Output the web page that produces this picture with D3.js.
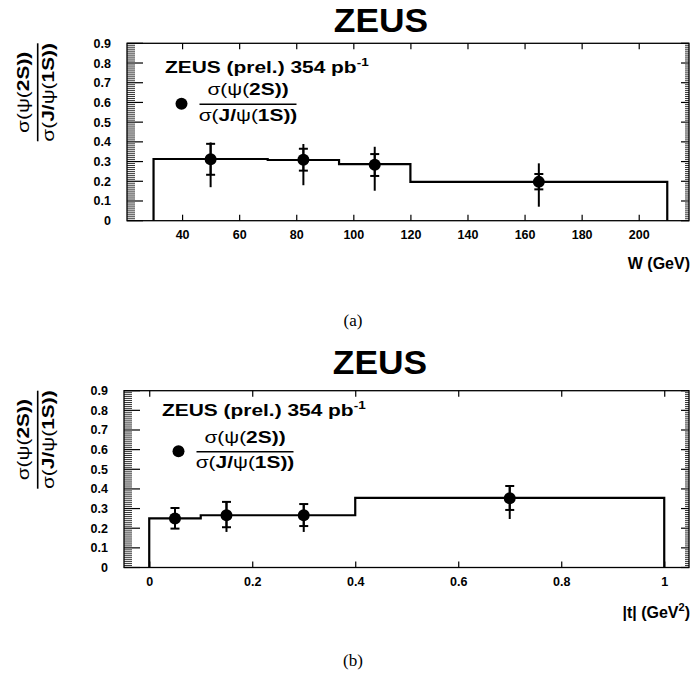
<!DOCTYPE html>
<html><head><meta charset="utf-8">
<script src="https://cdn.jsdelivr.net/npm/d3@7"></script>
<style>body{margin:0;background:#fff}svg{display:block}</style>
</head><body>
<script>
// ---- data: panel (a) W dependence ----
const wEdges = [30, 70, 95, 120, 210];
const wHist  = [0.313, 0.308, 0.287, 0.197];
const wX     = [50, 82.5, 107.5, 165];
const wY     = [0.312, 0.309, 0.284, 0.197];
const wStatHi = [0.390, 0.365, 0.338, 0.237];
const wStatLo = [0.233, 0.254, 0.227, 0.159];
const wTotHi  = [0.397, 0.389, 0.375, 0.291];
const wTotLo  = [0.170, 0.180, 0.152, 0.071];
const wTicks  = [40, 60, 80, 100, 120, 140, 160, 180, 200];

// ---- data: panel (b) |t| dependence ----
const tEdges = [0, 0.1, 0.4, 1.0];
const tHist  = [0.250, 0.266, 0.354];
const tX     = [0.05, 0.15, 0.3, 0.7];
const tY     = [0.250, 0.266, 0.266, 0.352];
const tStatHi = [0.303, 0.334, 0.323, 0.415];
const tStatLo = [0.198, 0.205, 0.211, 0.293];
const tTotHi  = [0.303, 0.334, 0.323, 0.415];
const tTotLo  = [0.198, 0.181, 0.181, 0.247];
const tTicks  = [0, 0.2, 0.4, 0.6, 0.8, 1];

const yTicks = [0, 0.1, 0.2, 0.3, 0.4, 0.5, 0.6, 0.7, 0.8, 0.9];

const W = 694, H = 684;
const svg = d3.select("body").append("svg").attr("width", W).attr("height", H);
const SANS = "'Liberation Sans', Arial, Helvetica, sans-serif";
const STRETCH = 1.23;

function panel(cfg) {
  const g = svg.append("g");
  const x = d3.scaleLinear().domain(cfg.xDom).range([cfg.left, cfg.right]);
  const y = d3.scaleLinear().domain([0, 0.9]).range([cfg.bottom, cfg.top]);

  // title
  g.append("text").attr("transform", `translate(${cfg.titleX},${cfg.titleY}) scale(1.04,1)`)
    .attr("text-anchor", "middle").attr("font-family", SANS).attr("font-weight", "bold")
    .attr("font-size", 34).text("ZEUS");

  // frame
  g.append("rect").attr("x", cfg.left).attr("y", cfg.top)
    .attr("width", cfg.right - cfg.left).attr("height", cfg.bottom - cfg.top)
    .attr("fill", "none").attr("stroke", "#000").attr("stroke-width", 1.3);

  // y ticks: majors every 0.1, minors every 0.01
  const minors = d3.range(0, 91).map(i => i / 100);
  minors.forEach((v, i) => {
    const major = i % 10 === 0;
    const lenL = major ? 16 : 8;
    const lenR = major ? 8 : 4;
    g.append("line").attr("x1", cfg.left).attr("x2", cfg.left + lenL)
      .attr("y1", y(v)).attr("y2", y(v)).attr("stroke", "#000").attr("stroke-width", major ? 1.2 : 0.8);
    g.append("line").attr("x1", cfg.right).attr("x2", cfg.right - lenR)
      .attr("y1", y(v)).attr("y2", y(v)).attr("stroke", "#000").attr("stroke-width", major ? 1.2 : 0.8);
  });
  const ya = g.append("g").attr("transform", `translate(${cfg.left - 8},0)`)
    .call(d3.axisLeft(y).tickValues(yTicks).tickSize(0).tickPadding(8)
      .tickFormat(d => d === 0 ? "0" : d3.format(".1f")(d)));
  ya.select(".domain").remove();
  ya.selectAll("text").attr("font-family", SANS).attr("font-weight", "bold").attr("font-size", 12.5).attr("fill", "#000");

  // x ticks (bottom & top)
  const xb = g.append("g").attr("transform", `translate(0,${cfg.bottom})`)
    .call(d3.axisBottom(x).tickValues(cfg.xTicks).tickSizeInner(-6).tickSizeOuter(0).tickPadding(9.5)
      .tickFormat(cfg.xFmt));
  xb.select(".domain").remove();
  xb.selectAll("line").attr("stroke-width", 1.2);
  xb.selectAll("text").attr("font-family", SANS).attr("font-weight", "bold").attr("font-size", 12.5).attr("fill", "#000");
  const xt = g.append("g").attr("transform", `translate(0,${cfg.top})`)
    .call(d3.axisTop(x).tickValues(cfg.xTicks).tickSizeInner(-6).tickSizeOuter(0).tickFormat(""));
  xt.select(".domain").remove();
  xt.selectAll("line").attr("stroke-width", 1.2);

  // histogram (step line)
  const pts = [[cfg.edges[0], 0]];
  cfg.hist.forEach((v, i) => { pts.push([cfg.edges[i], v]); pts.push([cfg.edges[i + 1], v]); });
  pts.push([cfg.edges[cfg.edges.length - 1], 0]);
  g.append("path").attr("d", d3.line().x(d => x(d[0])).y(d => y(d[1]))(pts))
    .attr("fill", "none").attr("stroke", "#000").attr("stroke-width", 2.2);

  // error bars and points
  cfg.px.forEach((xv, i) => {
    const cx = x(xv);
    g.append("line").attr("x1", cx).attr("x2", cx).attr("y1", y(cfg.totLo[i])).attr("y2", y(cfg.totHi[i]))
      .attr("stroke", "#000").attr("stroke-width", 2);
    g.append("line").attr("x1", cx).attr("x2", cx).attr("y1", y(cfg.statLo[i])).attr("y2", y(cfg.statHi[i]))
      .attr("stroke", "#000").attr("stroke-width", 2);
    [cfg.statLo[i], cfg.statHi[i]].forEach(v => {
      g.append("line").attr("x1", cx - 4.5).attr("x2", cx + 4.5).attr("y1", y(v)).attr("y2", y(v))
        .attr("stroke", "#000").attr("stroke-width", 2);
    });
    g.append("circle").attr("cx", cx).attr("cy", y(cfg.py[i])).attr("r", 6).attr("fill", "#000");
  });

  // legend
  const ty = cfg.top;
  const lt = g.append("text").attr("transform", `translate(${cfg.left + 38},${ty + cfg.legDy}) scale(${STRETCH},1)`)
    .attr("font-family", SANS).attr("font-weight", "bold").attr("font-size", 17);
  lt.append("tspan").text("ZEUS (prel.) 354 pb");
  lt.append("tspan").attr("dy", -7).attr("font-size", 11).text("-1");
  g.append("circle").attr("cx", cfg.left + 54.5).attr("cy", ty + 60.5).attr("r", 6).attr("fill", "#000");
  const fg = g.append("g").attr("transform", `translate(${cfg.left + 121},${ty + 61})`);
  fraction(fg, 97);

  // x axis title
  g.append("text").attr("x", 690).attr("y", cfg.bottom + cfg.xTitleDy).attr("text-anchor", "end")
    .attr("font-family", SANS).attr("font-weight", "bold").attr("font-size", 16)
    .call(cfg.xTitle);

  // y axis title (rotated fraction)
  const yg = g.append("g").attr("transform", `translate(${cfg.yTitleX},${cfg.top + 49}) rotate(-90)`);
  fraction(yg, 98);

  // caption
  svg.append("text").attr("x", 353).attr("y", cfg.capY).attr("text-anchor", "middle")
    .attr("font-family", "'Liberation Serif', 'Times New Roman', serif").attr("font-size", 17).text(cfg.cap);
}

function fraction(g, w) {
  const num = g.append("text").attr("transform", `translate(0,-9) scale(${STRETCH},1)`).attr("text-anchor", "middle")
    .attr("font-family", SANS).attr("font-size", 17);
  num.append("tspan").attr("font-weight", "normal").text("σ(ψ(");
  num.append("tspan").attr("font-weight", "bold").text("2S))");
  g.append("line").attr("x1", -w / 2).attr("x2", w / 2).attr("y1", 0).attr("y2", 0)
    .attr("stroke", "#000").attr("stroke-width", 1.6);
  const den = g.append("text").attr("transform", `translate(0,16.5) scale(${STRETCH},1)`).attr("text-anchor", "middle")
    .attr("font-family", SANS).attr("font-size", 17);
  den.append("tspan").attr("font-weight", "normal").text("σ(");
  den.append("tspan").attr("font-weight", "bold").text("J/");
  den.append("tspan").attr("font-weight", "normal").text("ψ(");
  den.append("tspan").attr("font-weight", "bold").text("1S))");
}

panel({
  xDom: [20.7, 20.7 + (689 - 127) / 2.854], left: 127, right: 689, top: 43.3, bottom: 220.7,
  titleX: 381, titleY: 32, edges: wEdges, hist: wHist, px: wX, py: wY,
  statLo: wStatLo, statHi: wStatHi, totLo: wTotLo, totHi: wTotHi, legDy: 30,
  xTicks: wTicks, xFmt: d3.format("d"), xTitleDy: 48,
  xTitle: t => t.text("W (GeV)"), yTitleX: 37.7, capY: 326, cap: "(a)"
});
panel({
  xDom: [-0.049, -0.049 + (689 - 124) / 515], left: 124, right: 689, top: 390.7, bottom: 567.5,
  titleX: 380, titleY: 374, edges: tEdges, hist: tHist, px: tX, py: tY,
  statLo: tStatLo, statHi: tStatHi, totLo: tTotLo, totHi: tTotHi, legDy: 25,
  xTicks: tTicks, xFmt: d => d === 0 ? "0" : (d === 1 ? "1" : d3.format(".1f")(d)), xTitleDy: 50,
  xTitle: t => { t.append("tspan").text("|t| (GeV"); t.append("tspan").attr("dy", -7).attr("font-size", 11).text("2");
                 t.append("tspan").attr("dy", 7).text(")"); },
  yTitleX: 37.7, capY: 666, cap: "(b)"
});
</script>
</body></html>
